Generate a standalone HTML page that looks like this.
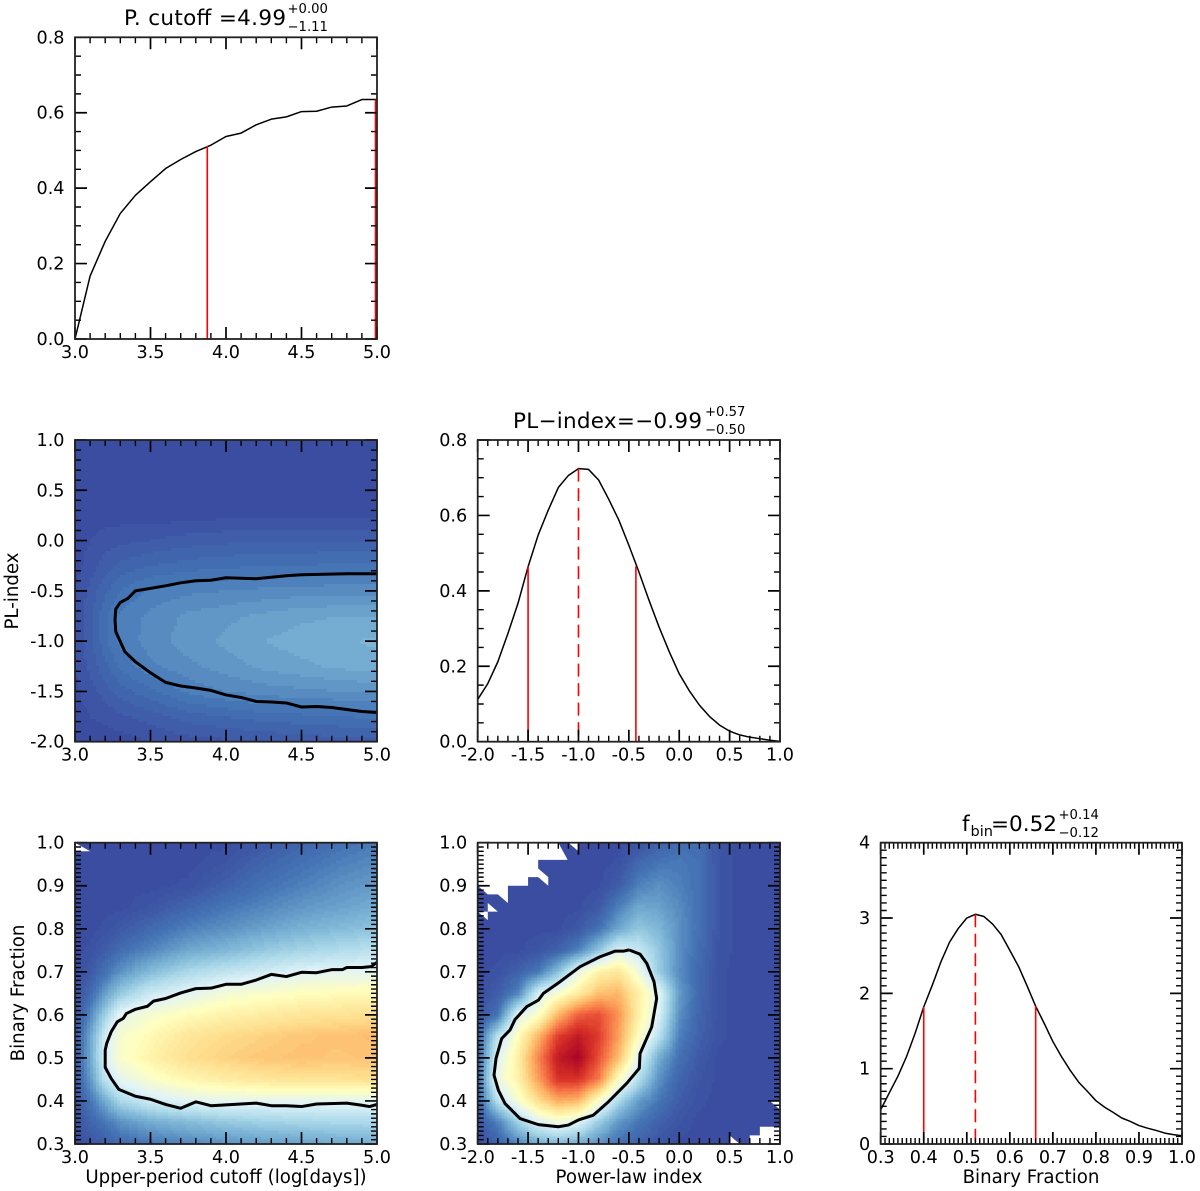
<!DOCTYPE html>
<html lang="en">
<head>
<meta charset="utf-8">
<title>Corner plot</title>
<style>
html,body{margin:0;padding:0;background:#fff;}
svg{display:block;filter:blur(0.3px);}
text{font-family:"DejaVu Sans",sans-serif;fill:#000;}
</style>
</head>
<body>
<svg id="figure" xmlns="http://www.w3.org/2000/svg" width="1200" height="1191" viewBox="0 0 1200 1191">
<defs>
<clipPath id="clip-a"><rect x="75" y="440" width="302" height="301.7"/></clipPath>
<clipPath id="clip-b"><rect x="75" y="842.7" width="302" height="301.3"/></clipPath>
<clipPath id="clip-c"><rect x="477.7" y="842.7" width="302.3" height="301.3"/></clipPath>
</defs>
<g id="layer-heat"></g>
<g id="layer-lines"></g>
<g id="layer-axes"></g>
<g id="layer-text">
<text x="124" y="25" font-size="21.5" textLength="162" lengthAdjust="spacing">P. cutoff =4.99</text>
<text x="287.5" y="13" font-size="13.2">+0.00</text>
<text x="287.5" y="31" font-size="13.2">−1.11</text>
<text x="513" y="428" font-size="21.5" textLength="189" lengthAdjust="spacing">PL−index=−0.99</text>
<text x="705" y="416" font-size="13.2">+0.57</text>
<text x="705" y="434" font-size="13.2">−0.50</text>
<text x="962" y="831" font-size="21.5">f</text>
<text x="970.5" y="836" font-size="14.5">bin</text>
<text x="991" y="831" font-size="21.5" textLength="66" lengthAdjust="spacingAndGlyphs">=0.52</text>
<text x="1058.5" y="819" font-size="13.2">+0.14</text>
<text x="1058.5" y="837" font-size="13.2">−0.12</text>
<text transform="translate(18,591) rotate(-90)" text-anchor="middle" font-size="18.2">PL-index</text>
<text transform="translate(24,993) rotate(-90)" text-anchor="middle" font-size="18.2">Binary Fraction</text>
<text x="226" y="1183" text-anchor="middle" font-size="18.2">Upper-period cutoff (log[days])</text>
<text x="629" y="1183" text-anchor="middle" font-size="18.2">Power-law index</text>
<text x="1031" y="1183" text-anchor="middle" font-size="18.2">Binary Fraction</text>
</g>
</svg>
<script>
// ---------- 1D marginals ----------
const cutoffX = [3.0,3.1,3.2,3.3,3.4,3.5,3.6,3.7,3.8,3.9,4.0,4.1,4.2,4.3,4.4,4.5,4.6,4.7,4.8,4.9,5.0];
const cutoffY = [0,0.167,0.259,0.333,0.381,0.417,0.452,0.476,0.497,0.514,0.537,0.546,0.568,0.583,0.589,0.603,0.604,0.615,0.618,0.635,0.635];
const cutoffMarkX = [3.876,4.99];
const cutoffMarkY = [0.512,0.635];

const indexX = [-2,-1.9,-1.8,-1.7,-1.6,-1.5,-1.4,-1.3,-1.2,-1.1,-1,-0.9,-0.8,-0.7,-0.6,-0.5,-0.4,-0.3,-0.2,-0.1,0,0.1,0.2,0.3,0.4,0.5,0.6,0.7,0.8,0.9,1];
const indexY = [0.112,0.154,0.212,0.287,0.367,0.464,0.548,0.614,0.674,0.706,0.724,0.722,0.694,0.643,0.588,0.521,0.45,0.375,0.304,0.239,0.18,0.135,0.097,0.067,0.044,0.028,0.018,0.012,0.008,0.004,0.001];
const indexMarkX = [-1.5,-0.43];
const indexMarkY = [0.465,0.465];
const indexPeakX = [-1.0];
const indexPeakY = [0.724];

const binX = [0.30,0.32,0.34,0.36,0.38,0.40,0.42,0.44,0.46,0.48,0.50,0.52,0.54,0.56,0.58,0.60,0.62,0.64,0.66,0.68,0.70,0.72,0.74,0.76,0.78,0.80,0.82,0.84,0.86,0.88,0.90,0.92,0.94,0.96,0.98,1.0];
const binY = [0.455,0.68,0.90,1.16,1.47,1.82,2.11,2.42,2.68,2.86,3.0,3.05,3.02,2.92,2.78,2.57,2.36,2.10,1.83,1.60,1.36,1.16,0.98,0.82,0.70,0.575,0.49,0.42,0.345,0.30,0.245,0.21,0.18,0.145,0.124,0.11];
const binMarkX = [0.40,0.66];
const binMarkY = [1.82,1.83];
const binPeakX = [0.52];
const binPeakY = [3.05];

// ---------- 2D heatmap grids (colour-scale values) ----------
const gridCutoff = [3,3.1,3.2,3.3,3.5,3.75,4,4.25,4.5,4.75,5];
const gridIndexRows = [1,0.75,0.5,0.25,0,-0.25,-0.5,-0.75,-1,-1.25,-1.5,-1.75,-2];
const heatCutoffIndex = [
[0,0,0,0,0,0,0,0,0,0,0],
[0,0,0,0,0,0,0,0,0,0,0],
[0,0,0,0,0,0,0,0,0,0,0],
[0,0,0,0,0,0,0.005,0.005,0.005,0.005,0.005],
[0,0.01,0.02,0.025,0.03,0.04,0.045,0.05,0.05,0.05,0.05],
[0,0.02,0.04,0.055,0.07,0.08,0.085,0.09,0.09,0.095,0.095],
[0.01,0.035,0.065,0.09,0.115,0.125,0.13,0.135,0.14,0.14,0.14],
[0.015,0.045,0.085,0.115,0.135,0.155,0.165,0.175,0.185,0.19,0.19],
[0.015,0.045,0.085,0.115,0.14,0.16,0.175,0.19,0.2,0.205,0.215],
[0.01,0.035,0.065,0.095,0.125,0.145,0.16,0.175,0.185,0.195,0.2],
[0.005,0.02,0.04,0.06,0.085,0.115,0.13,0.14,0.145,0.15,0.155],
[0,0.01,0.015,0.025,0.04,0.06,0.07,0.08,0.085,0.09,0.095],
[0,0,0,0,0.01,0.02,0.025,0.03,0.035,0.04,0.04]
];

const gridBinRows = [1,0.95,0.9,0.85,0.8,0.75,0.7,0.65,0.6,0.55,0.5,0.45,0.4,0.35,0.3];
const heatCutoffBin = [
[0,0,0,0,0,0,0,0.03,0.06,0.09,0.11],
[0,0,0,0,0,0,0.02,0.06,0.09,0.12,0.14],
[0,0,0,0,0,0.01,0.05,0.09,0.12,0.15,0.17],
[0,0,0,0,0.02,0.06,0.1,0.13,0.16,0.18,0.2],
[0,0,0.01,0.03,0.07,0.12,0.15,0.18,0.21,0.23,0.25],
[0,0.01,0.04,0.08,0.13,0.19,0.22,0.26,0.29,0.31,0.33],
[0,0.03,0.09,0.15,0.23,0.3,0.34,0.37,0.4,0.41,0.42],
[0.01,0.07,0.17,0.26,0.36,0.41,0.46,0.48,0.50,0.51,0.51],
[0.02,0.13,0.28,0.42,0.47,0.51,0.54,0.56,0.58,0.59,0.60],
[0.03,0.18,0.38,0.47,0.52,0.58,0.61,0.63,0.65,0.66,0.67],
[0.03,0.19,0.39,0.48,0.54,0.6,0.63,0.65,0.66,0.65,0.66],
[0.03,0.16,0.34,0.42,0.48,0.53,0.56,0.58,0.59,0.59,0.6],
[0.02,0.1,0.2,0.3,0.37,0.41,0.42,0.42,0.42,0.42,0.42],
[0.01,0.06,0.1,0.15,0.2,0.23,0.26,0.28,0.29,0.3,0.3],
[0,0.02,0.04,0.07,0.1,0.13,0.15,0.17,0.18,0.19,0.2]
];

const gridIndex = [-2,-1.8,-1.6,-1.4,-1.2,-1,-0.8,-0.6,-0.4,-0.2,0,0.2,0.4,0.6,0.8,1];
const heatIndexBin = [
[0,0,0,0,0,0,0,0,0.01,0.05,0.08,0.08,0.02,0,0,0],
[0,0,0,0,0,0,0,0.01,0.07,0.1,0.11,0.09,0.02,0,0,0],
[0,0,0,0,0,0,0,0.04,0.12,0.15,0.12,0.09,0.02,0,0,0],
[0,0,0,0,0,0,0.03,0.12,0.19,0.18,0.14,0.09,0.02,0,0,0],
[0,0,0,0,0,0.03,0.09,0.19,0.26,0.22,0.15,0.09,0.02,0,0,0],
[0,0,0,0.02,0.05,0.12,0.25,0.39,0.35,0.26,0.15,0.08,0.015,0,0,0],
[0,0.01,0.05,0.1,0.24,0.43,0.54,0.58,0.45,0.27,0.14,0.07,0.01,0,0,0],
[0,0.04,0.12,0.38,0.47,0.56,0.66,0.68,0.55,0.41,0.17,0.07,0.01,0,0,0],
[0.02,0.09,0.40,0.48,0.68,0.82,0.85,0.74,0.55,0.39,0.15,0.06,0.01,0,0,0],
[0.05,0.33,0.5,0.68,0.88,0.95,0.88,0.72,0.5,0.33,0.12,0.05,0.01,0,0,0],
[0.06,0.4,0.55,0.76,0.95,1,0.85,0.67,0.41,0.2,0.09,0.03,0,0,0,0],
[0.07,0.44,0.54,0.72,0.9,0.9,0.78,0.5,0.32,0.15,0.06,0.02,0,0,0,0],
[0.05,0.33,0.47,0.6,0.7,0.68,0.49,0.3,0.17,0.1,0.04,0.01,0,0,0,0],
[0.02,0.12,0.28,0.4,0.45,0.4,0.27,0.16,0.1,0.05,0.02,0,0,0,0,0],
[0,0.05,0.13,0.2,0.22,0.2,0.15,0.09,0.05,0.02,0,0,0,0,0,0]
];

// ---------- contours ----------
const contourIndexX = [5,4.8,4.5,4.4,4.3,4.2,4.1,4,3.9,3.8,3.7,3.6,3.5,3.4,3.35,3.3,3.27,3.265,3.27,3.3,3.33,3.4,3.5,3.6,3.7,3.8,3.9,4,4.1,4.2,4.3,4.4,4.5,4.6,4.7,4.8,4.9,5];
const contourIndexY = [-0.33,-0.33,-0.34,-0.35,-0.365,-0.38,-0.375,-0.37,-0.395,-0.4,-0.42,-0.45,-0.475,-0.5,-0.575,-0.615,-0.68,-0.79,-0.905,-1.005,-1.105,-1.205,-1.315,-1.41,-1.446,-1.466,-1.49,-1.535,-1.56,-1.6,-1.605,-1.615,-1.655,-1.65,-1.66,-1.68,-1.7,-1.71];

const contourBinX = [5,4.96,4.9,4.8,4.77,4.7,4.6,4.5,4.4,4.3,4.2,4.1,4,3.9,3.8,3.7,3.6,3.52,3.48,3.4,3.34,3.32,3.28,3.24,3.21,3.2,3.2,3.24,3.29,3.4,3.5,3.6,3.7,3.8,3.9,4,4.2,4.3,4.4,4.5,4.6,4.8,4.9,4.95,5];
const contourBinY = [0.722,0.712,0.71,0.71,0.705,0.705,0.698,0.699,0.689,0.694,0.681,0.671,0.671,0.662,0.661,0.651,0.638,0.632,0.62,0.613,0.603,0.592,0.584,0.561,0.534,0.518,0.478,0.452,0.427,0.411,0.404,0.392,0.383,0.398,0.389,0.391,0.395,0.389,0.389,0.387,0.393,0.395,0.39,0.387,0.392];

const contourBoth_X = [-0.498,-0.389,-0.323,-0.25,-0.224,-0.273,-0.389,-0.396,-0.521,-0.703,-0.852,-1,-1.1,-1.2,-1.398,-1.58,-1.729,-1.795,-1.838,-1.818,-1.762,-1.679,-1.63,-1.514,-1.398,-1.348,-1.183,-0.984,-0.786,-0.637,-0.554,-0.498];
const contourBoth_Y = [0.751,0.741,0.72,0.677,0.638,0.572,0.51,0.476,0.441,0.398,0.367,0.356,0.344,0.34,0.345,0.359,0.394,0.425,0.46,0.499,0.545,0.565,0.589,0.619,0.634,0.65,0.677,0.712,0.735,0.748,0.748,0.751];

// ---------- empty (white) regions ----------
const blankCutoffBin = [[[3,1],[3.1,0.98],[3,0.98]]];
const blankIndexBin = [
[[-2,1],[-1.2,1],[-1.107,0.96],[-1.4,0.96],[-1.4,0.94],[-1.3,0.92],[-1.3,0.9],[-1.4,0.92],[-1.5,0.92],[-1.5,0.9],[-1.7,0.9],[-1.7,0.86],[-1.8,0.88],[-1.9,0.88],[-2,0.9]],
[[-1.1,1],[-1,1],[-1,0.98]],
[[-1.9,0.86],[-1.8,0.84],[-1.9,0.84]],
[[-2,0.84],[-1.9,0.84],[-1.9,0.82]],
[[0.5,0.32],[0.6,0.3],[0.5,0.3]],
[[0.7,0.3],[0.7,0.32],[0.8,0.32],[0.8,0.34],[1,0.34],[1,0.3]],
[[0.9,0.4],[1,0.4],[1,0.38]]
];

// ---------- tick settings ----------
const ticksCutoff = ["3.0","3.5","4.0","4.5","5.0"];
const ticksIndex = ["-2.0","-1.5","-1.0","-0.5","0.0","0.5","1.0"];
const ticksBin = ["0.3","0.4","0.5","0.6","0.7","0.8","0.9","1.0"];
const ticksDensity = ["0.0","0.2","0.4","0.6","0.8"];
const ticksBinDensity = ["0","1","2","3","4"];

// ---------- colour map ----------
const colorStops = [[59,77,160],[69,117,181],[116,173,209],[171,217,233],[224,243,248],[255,255,191],[254,224,144],[253,174,97],[244,109,67],[215,48,39],[170,5,38]];

const NS = "http://www.w3.org/2000/svg";
const heatLayer = document.getElementById("layer-heat");
const lineLayer = document.getElementById("layer-lines");
const axesLayer = document.getElementById("layer-axes");
const textLayer = document.getElementById("layer-text");

function colorOf(z, step){
  if(step){ z = Math.round(z/step)*step; }
  z = Math.max(0, Math.min(1, z));
  const p = z*(colorStops.length-1);
  const i = Math.min(colorStops.length-2, Math.floor(p));
  const t = p-i;
  const a = colorStops[i], b = colorStops[i+1];
  return "rgb("+Math.round(a[0]+(b[0]-a[0])*t)+","+Math.round(a[1]+(b[1]-a[1])*t)+","+Math.round(a[2]+(b[2]-a[2])*t)+")";
}
function makeAxes(box, xMin, xMax, yMin, yMax){
  return {
    box: box,
    sx: function(v){ return box.x + (v-xMin)/(xMax-xMin)*box.w; },
    sy: function(v){ return box.y + box.h - (v-yMin)/(yMax-yMin)*box.h; },
    ix: function(p){ return xMin + (p-box.x)/box.w*(xMax-xMin); },
    iy: function(p){ return yMin + (box.y+box.h-p)/box.h*(yMax-yMin); },
    xMin: xMin, xMax: xMax, yMin: yMin, yMax: yMax
  };
}
function bracket(arr, v){
  const asc = arr[arr.length-1] > arr[0];
  for(let i=0;i<arr.length-1;i++){
    const a = arr[i], b = arr[i+1];
    if(asc ? (v<=b) : (v>=b)){ return [i,(v-a)/(b-a)]; }
  }
  return [arr.length-2,1];
}
function drawHeat(ax, xs, ys, grid, step, clipId){
  const g = document.createElementNS(NS,"g");
  
  
  g.setAttribute("clip-path","url(#"+clipId+")");
  g.setAttribute("shape-rendering","crispEdges");
  const size = 3;
  for(let py=ax.box.y; py<ax.box.y+ax.box.h; py+=size){
    for(let px=ax.box.x; px<ax.box.x+ax.box.w; px+=size){
      const bx = bracket(xs, ax.ix(px+size/2));
      const by = bracket(ys, ax.iy(py+size/2));
      const tx = Math.max(0,Math.min(1,bx[1])), ty = Math.max(0,Math.min(1,by[1]));
      const i = bx[0], j = by[0];
      const z = (grid[j][i]*(1-tx)+grid[j][i+1]*tx)*(1-ty) + (grid[j+1][i]*(1-tx)+grid[j+1][i+1]*tx)*ty;
      const r = document.createElementNS(NS,"rect");
      r.setAttribute("x",px.toFixed(2));
      r.setAttribute("y",py.toFixed(2));
      r.setAttribute("width",size+0.6);
      r.setAttribute("height",size+0.6);
      r.setAttribute("fill",colorOf(z,step));
      
      
      g.appendChild(r);
    }
  }
  heatLayer.appendChild(g);
}
function drawBlanks(ax, polys, clipId){
  polys.forEach(function(poly){
    const p = document.createElementNS(NS,"polygon");
    p.setAttribute("points",poly.map(function(q){return ax.sx(q[0]).toFixed(2)+","+ax.sy(q[1]).toFixed(2);}).join(" "));
    p.setAttribute("fill","#fff");
    p.setAttribute("clip-path","url(#"+clipId+")");
    
    
    heatLayer.appendChild(p);
  });
}
function drawPath(ax, xs, ys, width, color, name){
  const p = document.createElementNS(NS,"polyline");
  p.setAttribute("points",xs.map(function(v,i){return ax.sx(v).toFixed(2)+","+ax.sy(ys[i]).toFixed(2);}).join(" "));
  p.setAttribute("fill","none");
  p.setAttribute("stroke",color);
  p.setAttribute("stroke-width",width);
  p.setAttribute("stroke-linejoin","round");
  
  
  lineLayer.appendChild(p);
}
function drawMarks(ax, xs, ys, dashed, name){
  xs.forEach(function(v,i){
    const l = document.createElementNS(NS,"line");
    l.setAttribute("x1",ax.sx(v).toFixed(2));
    l.setAttribute("x2",ax.sx(v).toFixed(2));
    l.setAttribute("y1",ax.sy(ys[i]).toFixed(2));
    l.setAttribute("y2",ax.sy(ax.yMin).toFixed(2));
    l.setAttribute("stroke","#f00");
    l.setAttribute("stroke-width","1.6");
    if(dashed){ l.setAttribute("stroke-dasharray","13 6.5"); }
    
    
    lineLayer.appendChild(l);
  });
}
function tickLine(x1,y1,x2,y2){
  return "M"+x1.toFixed(2)+" "+y1.toFixed(2)+"L"+x2.toFixed(2)+" "+y2.toFixed(2);
}
function drawFrame(ax, xLabels, yLabels, xMajor, xMinor, yMajor, yMinor, name){
  const b = ax.box;
  let major = "", minor = "";
  const bigLen = 12, smallLen = 6;
  const nx = Math.round((ax.xMax-ax.xMin)/xMinor), ny = Math.round((ax.yMax-ax.yMin)/yMinor);
  const xEvery = Math.round(xMajor/xMinor), yEvery = Math.round(yMajor/yMinor);
  for(let i=0;i<=nx;i++){
    const px = ax.sx(ax.xMin+i*xMinor);
    const len = i%xEvery===0 ? bigLen : smallLen;
    const d = tickLine(px,b.y+b.h,px,b.y+b.h-len)+tickLine(px,b.y,px,b.y+len);
    if(i%xEvery===0){ major+=d; } else { minor+=d; }
  }
  for(let i=0;i<=ny;i++){
    const py = ax.sy(ax.yMin+i*yMinor);
    const len = i%yEvery===0 ? bigLen : smallLen;
    const d = tickLine(b.x,py,b.x+len,py)+tickLine(b.x+b.w,py,b.x+b.w-len,py);
    if(i%yEvery===0){ major+=d; } else { minor+=d; }
  }
  const t1 = document.createElementNS(NS,"path");
  t1.setAttribute("d",major);
  t1.setAttribute("stroke","#000");
  t1.setAttribute("stroke-width","1.7");
  
  
  axesLayer.appendChild(t1);
  const t2 = document.createElementNS(NS,"path");
  t2.setAttribute("d",minor);
  t2.setAttribute("stroke","#000");
  t2.setAttribute("stroke-width","1.4");
  
  
  axesLayer.appendChild(t2);
  const f = document.createElementNS(NS,"rect");
  f.setAttribute("x",b.x);
  f.setAttribute("y",b.y);
  f.setAttribute("width",b.w);
  f.setAttribute("height",b.h);
  f.setAttribute("fill","none");
  f.setAttribute("stroke","#222");
  f.setAttribute("stroke-width","1.8");
  
  
  axesLayer.appendChild(f);
  xLabels.forEach(function(s){
    const t = document.createElementNS(NS,"text");
    t.setAttribute("x",ax.sx(parseFloat(s)).toFixed(2));
    t.setAttribute("y",(b.y+b.h+19).toFixed(2));
    t.setAttribute("text-anchor","middle");
    t.setAttribute("font-size","17.6");
    
    
    t.textContent = s;
    textLayer.appendChild(t);
  });
  yLabels.forEach(function(s){
    const t = document.createElementNS(NS,"text");
    t.setAttribute("x",(b.x-10.5).toFixed(2));
    t.setAttribute("y",(ax.sy(parseFloat(s))+6).toFixed(2));
    t.setAttribute("text-anchor","end");
    t.setAttribute("font-size","17.6");
    
    
    t.textContent = s;
    textLayer.appendChild(t);
  });
}

// panels
const axTop = makeAxes({x:75,y:37.3,w:302,h:301.7},3,5,0,0.8);
const axPL = makeAxes({x:75,y:440,w:302,h:301.7},3,5,-2,1);
const axPeak = makeAxes({x:477.7,y:440,w:302.3,h:301.7},-2,1,0,0.8);
const axBin = makeAxes({x:75,y:842.7,w:302,h:301.3},3,5,0.3,1);
const axBoth = makeAxes({x:477.7,y:842.7,w:302.3,h:301.3},-2,1,0.3,1);
const axFrac = makeAxes({x:880.7,y:842.7,w:301.3,h:301.3},0.3,1,0,4);

drawHeat(axPL, gridCutoff, gridIndexRows, heatCutoffIndex, 0.02, "clip-a");
drawHeat(axBin, gridCutoff, gridBinRows, heatCutoffBin, 0.012, "clip-b");
drawHeat(axBoth, gridIndex, gridBinRows, heatIndexBin, 0.012, "clip-c");
drawBlanks(axBin, blankCutoffBin, "clip-b");
drawBlanks(axBoth, blankIndexBin, "clip-c");

drawPath(axTop, cutoffX, cutoffY, 1.5, "#000", "cutoff-posterior-curve");
drawMarks(axTop, cutoffMarkX, cutoffMarkY, false, "cutoff-interval-line");
drawPath(axPeak, indexX, indexY, 1.5, "#000", "pl-index-posterior-curve");
drawMarks(axPeak, indexMarkX, indexMarkY, false, "pl-index-interval-line");
drawMarks(axPeak, indexPeakX, indexPeakY, true, "pl-index-median-line");
drawPath(axFrac, binX, binY, 1.5, "#000", "binary-fraction-posterior-curve");
drawMarks(axFrac, binMarkX, binMarkY, false, "binary-fraction-interval-line");
drawMarks(axFrac, binPeakX, binPeakY, true, "binary-fraction-median-line");

drawPath(axPL, contourIndexX, contourIndexY, 3, "#000", "cutoff-index-contour");
drawPath(axBin, contourBinX, contourBinY, 3, "#000", "cutoff-binary-contour");
drawPath(axBoth, contourBoth_X, contourBoth_Y, 3, "#000", "index-binary-contour");

drawFrame(axTop, ticksCutoff, ticksDensity, 0.5, 0.1, 0.2, 0.05, "cutoff-panel");
drawFrame(axPL, ticksCutoff, ticksIndex, 0.5, 0.1, 0.5, 0.1, "cutoff-index-panel");
drawFrame(axPeak, ticksIndex, ticksDensity, 0.5, 0.1, 0.2, 0.05, "pl-index-panel");
drawFrame(axBin, ticksCutoff, ticksBin, 0.5, 0.1, 0.1, 0.01, "cutoff-binary-panel");
drawFrame(axBoth, ticksIndex, ticksBin, 0.5, 0.1, 0.1, 0.01, "index-binary-panel");
drawFrame(axFrac, ticksBin, ticksBinDensity, 0.1, 0.01, 1, 0.1, "binary-fraction-panel");
</script>
</body>
</html>
